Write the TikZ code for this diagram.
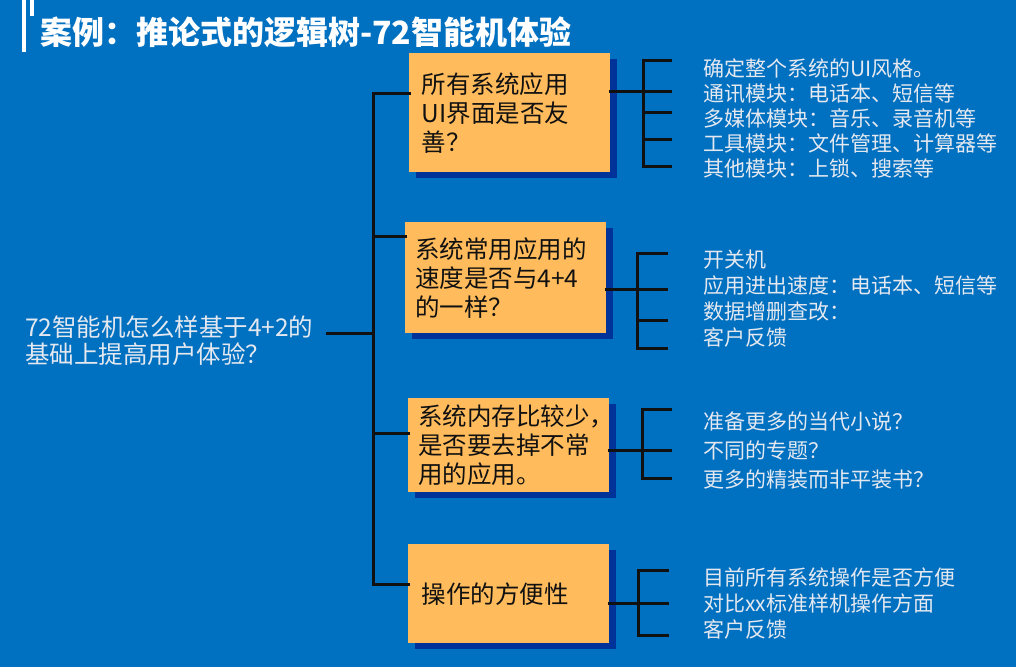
\documentclass[tikz,border=0pt]{standalone}
\usepackage{fontspec}
\setmainfont{Noto Sans CJK SC}
\usetikzlibrary{positioning,shadows}
\definecolor{slideblue}{RGB}{0,112,192}
\definecolor{boxorange}{RGB}{255,187,92}
\definecolor{shadowblue}{RGB}{0,51,153}
\definecolor{linkblack}{RGB}{17,17,17}
\definecolor{softwhite}{RGB}{228,232,240}
\tikzset{
  issue-box/.style={fill=boxorange, anchor=north west, minimum width=201pt,
    text width=176pt, inner xsep=0pt, align=left, text=linkblack,
    font=\fontsize{24.5}{29}\selectfont,
    drop shadow={shadow xshift=7pt, shadow yshift=-6pt, fill=shadowblue, opacity=1}},
  tree-line/.style={line width=3pt, draw=linkblack, line cap=rect},
  detail-text/.style={anchor=west, inner sep=0pt, align=left, text=softwhite,
    font=\fontsize{21}{25}\selectfont},
  root-text/.style={anchor=west, inner xsep=0pt, outer xsep=14pt, align=left,
    text=softwhite, font=\fontsize{24.5}{27}\selectfont},
  title-text/.style={anchor=west, inner sep=0pt, text=white,
    font=\fontsize{32}{34}\selectfont\bfseries}
}
\begin{document}
\begin{tikzpicture}[x=1pt,y=-1pt]
\useasboundingbox (0,0) rectangle (1016,667);
\fill[slideblue] (0,0) rectangle (1016,667);
% title
\fill[white] (22,0) rectangle (26,52);
\fill[white] (30,0) rectangle (34,16);
\node[title-text] (title) at (40,32) {案例：推论式的逻辑树-72智能机体验};
% root question
\node[root-text] (root) at (11,341) {72智能机怎么样基于4+2的\\基础上提高用户体验？};
% the four issues
\node[issue-box, minimum height=119pt] (b1) at (409,53) {所有系统应用\\UI界面是否友\\善？};
\node[issue-box, minimum height=111pt, text width=181pt] (b2) at (405,222) {系统常用应用的\\速度是否与4+4\\的一样？};
\node[issue-box, minimum height=94pt, text width=181pt] (b3) at (408,398) {系统内存比较少，\\是否要去掉不常\\用的应用。};
\node[issue-box, minimum height=99pt, text width=174pt] (b4) at (408,544) {操作的方便性};
% trunk
\coordinate (rj) at (373,333);
\coordinate (t1) at (373,93);
\coordinate (t2) at (373,236);
\coordinate (t3) at (373,433);
\coordinate (t4) at (373,584);
\draw[tree-line] (t1) -- (t4);
\draw[tree-line] (rj -| root.east) -- (rj);
\draw[tree-line] (t1) -- (t1 -| b1.west);
\draw[tree-line] (t2) -- (t2 -| b2.west);
\draw[tree-line] (t3) -- (t3 -| b3.west);
\draw[tree-line] (t4) -- (t4 -| b4.west);
% brackets
\coordinate (j1) at (643,91);
\draw[tree-line] (j1 -| b1.east) -- (j1);
\draw[tree-line] (643,60) -- (643,166);
\foreach \y in {60,91,112,139,166} \draw[tree-line] (643,\y) -- (670,\y);
\coordinate (j2) at (637,289);
\draw[tree-line] (j2 -| b2.east) -- (j2);
\draw[tree-line] (637,253) -- (637,348);
\foreach \y in {253,289,320,348} \draw[tree-line] (637,\y) -- (666,\y);
\coordinate (j3) at (642,450);
\draw[tree-line] (j3 -| b3.east) -- (j3);
\draw[tree-line] (642,409) -- (642,478);
\foreach \y in {409,450,478} \draw[tree-line] (642,\y) -- (670,\y);
\coordinate (j4) at (638,603);
\draw[tree-line] (j4 -| b4.east) -- (j4);
\draw[tree-line] (638,570) -- (638,635);
\foreach \y in {570,603,635} \draw[tree-line] (638,\y) -- (667,\y);
% details
\node[detail-text] (d1) at (703,118) {确定整个系统的UI风格。\\通讯模块：电话本、短信等\\多媒体模块：音乐、录音机等\\工具模块：文件管理、计算器等\\其他模块：上锁、搜索等};
\node[detail-text, font=\fontsize{21}{26}\selectfont] (d2) at (703,299) {开关机\\应用进出速度：电话本、短信等\\数据增删查改：\\客户反馈};
\node[detail-text, font=\fontsize{21}{29}\selectfont] (d3) at (703,451) {准备更多的当代小说？\\不同的专题？\\更多的精装而非平装书？};
\node[detail-text, font=\fontsize{21}{26}\selectfont] (d4) at (703,604) {目前所有系统操作是否方便\\对比xx标准样机操作方面\\客户反馈};
\end{tikzpicture}
\end{document}
